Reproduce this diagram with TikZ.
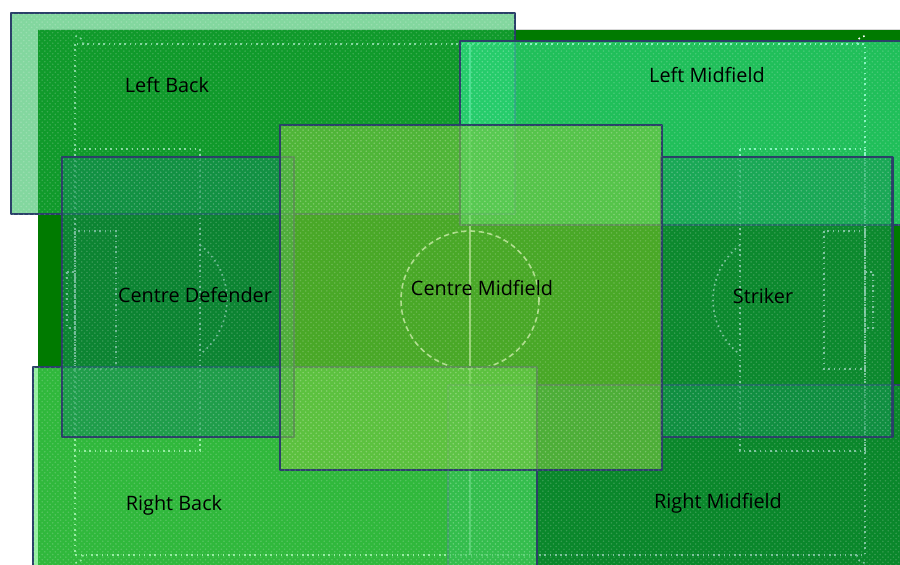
\documentclass[tikz,border=0pt]{standalone}
\usepackage{fontspec}
\setmainfont{Open Sans}
\usetikzlibrary{patterns}

\definecolor{pitch}{RGB}{0,122,0}
\definecolor{edge}{RGB}{42,64,104}
\definecolor{lbcol}{RGB}{30,182,80}
\definecolor{lmcol}{RGB}{54,238,150}
\definecolor{cdcol}{RGB}{20,140,84}
\definecolor{stcol}{RGB}{22,150,84}
\definecolor{cmcol}{RGB}{122,200,66}
\definecolor{rbcol}{RGB}{80,226,100}
\definecolor{rmcol}{RGB}{20,146,80}

\begin{document}
\begin{tikzpicture}[x=0.02cm,y=-0.02cm,
  zone/.style={draw=edge,line width=1.7pt,line join=round},
  weave/.style={pattern=crosshatch dots,pattern color=white,fill opacity=0.18},
  chalk/.style={white,line width=0.9pt,dash pattern=on 0.9pt off 2.1pt},
  poslabel/.style={font=\fontsize{11.3}{13}\selectfont,text=black}]
  \useasboundingbox (0,0) rectangle (900,565);
  \clip (0,0) rectangle (900,565);
  % campo
  \fill[pitch] (38,30) rectangle (905,570);
  \draw[black!15,line width=0.5pt] (38,29.5) -- (905,29.5);
  % lineas del campo
  \draw[chalk] (75,44) rectangle (865,555);
  \draw[white,opacity=0.8,line width=1.2pt] (470,44) -- (470,555);
  \draw[chalk,dash pattern=on 3pt off 2pt] (470,300) circle[radius=69];
  \draw[chalk] (75,149) rectangle (200,451);
  \draw[chalk] (75,231) rectangle (116,369);
  \draw[chalk] (67,272) rectangle (75,328);
  \draw[chalk] (740,149) rectangle (865,451);
  \draw[chalk] (824,231) rectangle (865,369);
  \draw[chalk] (865,272) rectangle (873,328);
  \draw[chalk] (200,245) arc[start angle=-52.5,end angle=52.5,radius=69];
  \draw[chalk] (740,245) arc[start angle=232.5,end angle=127.5,radius=69];
  \draw[chalk] (83,44) arc[start angle=0,end angle=-90,radius=8];
  \draw[chalk] (857,44) arc[start angle=180,end angle=270,radius=8];
  \draw[chalk] (83,555) arc[start angle=0,end angle=90,radius=8];
  \draw[chalk] (857,555) arc[start angle=180,end angle=90,radius=8];
  % zonas de cada puesto
  \draw[zone,fill=lbcol,fill opacity=0.55] (11,13) rectangle (515,214);
  \fill[weave] (11,13) rectangle (515,214);
  \draw[zone,fill=lmcol,fill opacity=0.6] (460,41) rectangle (910,225);
  \fill[weave] (460,41) rectangle (910,225);
  \draw[zone,fill=rmcol,fill opacity=0.55] (448,385) rectangle (910,575);
  \fill[weave] (448,385) rectangle (910,575);
  \draw[zone,fill=rbcol,fill opacity=0.6] (33,367) rectangle (537,575);
  \fill[weave] (33,367) rectangle (537,575);
  \draw[zone,fill=cdcol,fill opacity=0.6] (62,157) rectangle (294,437);
  \fill[weave] (62,157) rectangle (294,437);
  \draw[zone,fill=stcol,fill opacity=0.55] (661,157) rectangle (892,437);
  \fill[weave] (661,157) rectangle (892,437);
  \draw[zone,fill=cmcol,fill opacity=0.6] (280,125) rectangle (662,470);
  \fill[weave] (280,125) rectangle (662,470);
  % nombres
  \node[poslabel] (lb) at (167,85) {Left Back};
  \node[poslabel] (lm) at (707,75) {Left Midfield};
  \node[poslabel] (cd) at (195,295) {Centre Defender};
  \node[poslabel] (cm) at (482,288) {Centre Midfield};
  \node[poslabel] (st) at (763,296) {Striker};
  \node[poslabel] (rb) at (174,505) {Right Back};
  \node[poslabel] (rm) at (718,503) {Right Midfield};
\end{tikzpicture}
\end{document}
